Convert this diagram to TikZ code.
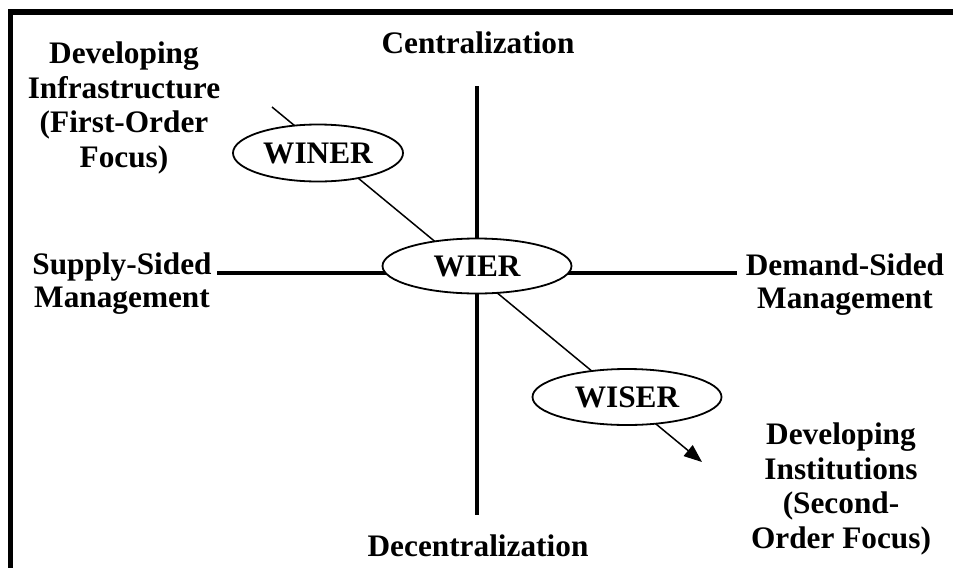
\documentclass[tikz,border=0pt]{standalone}
\usepackage{fontspec}
\setmainfont{Liberation Serif}
\usetikzlibrary{arrows.meta, shapes.geometric}

\begin{document}
\begin{tikzpicture}[x=1pt, y=-1pt,
             lbl/.style={font=\fontsize{31.3}{34.5}\selectfont\bfseries,
                         align=center, anchor=base, inner sep=0pt},
             oval/.style={ellipse, draw, line width=1.8pt, fill=white, inner sep=0pt,
                          minimum width=189pt, minimum height=56pt,
                          font=\fontsize{31.3}{36}\selectfont\bfseries},
             axisline/.style={line width=4pt}]
             \useasboundingbox (0,0) rectangle (953,568);
             % frame (top and left edge only)
             \draw [line width=5.5pt] (953,12) -- (10.5,12) -- (10.5,568);
             % axes and the diagonal
             \coordinate (top) at (477,86);
             \coordinate (bottom) at (477,515);
             \coordinate (left) at (217,273);
             \coordinate (right) at (737,273);
             \coordinate (first) at (272,107);
             \coordinate (second) at (702,462);
             \draw [axisline] (top) -- (bottom);
             \draw [axisline] (left) -- (right);
             \draw [line width=1.5pt, -{Triangle[length=18pt, width=14pt]}] (first) -- (second);
             % ovals
             \node [oval, minimum width=170pt, minimum height=57pt] (winer) at (318,153) {WINER};
             \node [oval, minimum height=55pt] (wier) at (477,266) {WIER};
             \node [oval] (wiser) at (627,397) {WISER};
             % labels (base = baseline of the last line)
             \node [lbl] (central) at (478,53) {Centralization};
             \node [lbl] (decentral) at (478,556) {Decentralization};
             \node [lbl] (infra) at (124,167) {Developing\\Infrastructure\\(First-Order\\Focus)};
             \node [lbl, font=\fontsize{31.3}{32.5}\selectfont\bfseries] (supply) at (122,307) {Supply-Sided\\Management};
             \node [lbl, font=\fontsize{31.3}{32.5}\selectfont\bfseries] (demand) at (845,308) {Demand-Sided\\Management};
             \node [lbl] (inst) at (841,548) {Developing\\Institutions\\(Second-\\Order Focus)};
\end{tikzpicture}
\end{document}
